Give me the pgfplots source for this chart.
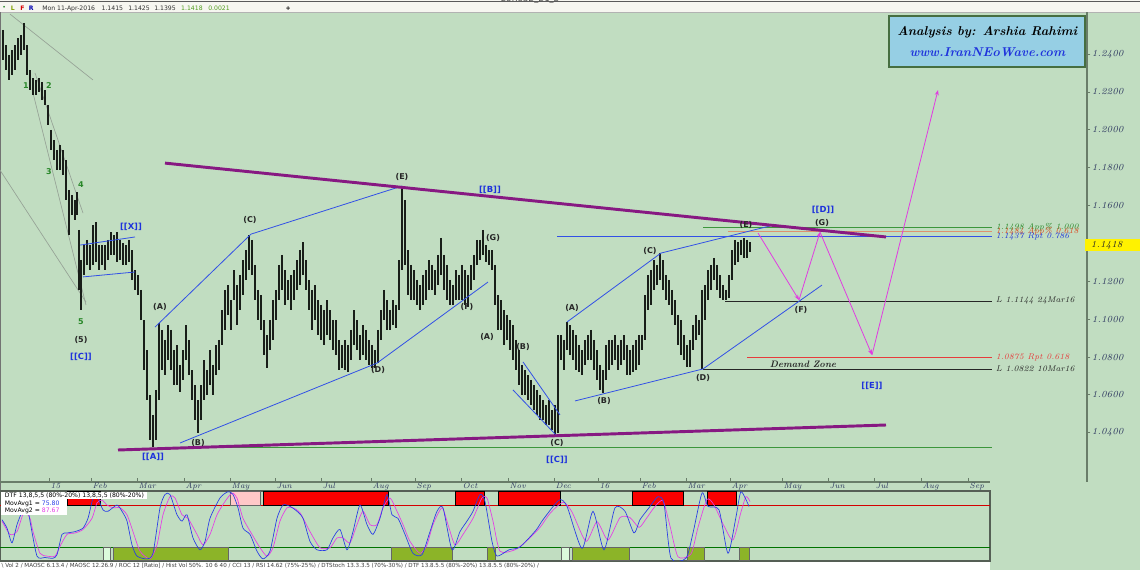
\documentclass[border=0pt]{standalone}
\usepackage{fontspec}
\usepackage{pgfplots}
\pgfplotsset{compat=1.18}
\usepackage{pgfplotstable}
\usetikzlibrary{arrows.meta}
\newfontfamily\dvs{DejaVu Sans}
\definecolor{bggreen}{RGB}{193,221,193}
\definecolor{topbg}{RGB}{246,246,240}
\definecolor{barcol}{RGB}{25,30,25}
\definecolor{purp}{RGB}{135,25,130}
\definecolor{wblue}{RGB}{50,80,230}
\definecolor{lgray}{RGB}{150,162,150}
\definecolor{magarrow}{RGB}{225,60,225}
\definecolor{lblblue}{RGB}{30,50,220}
\definecolor{lblgreen}{RGB}{40,135,40}
\definecolor{lvlgreen}{RGB}{60,150,60}
\definecolor{lvlsalmon}{RGB}{222,145,110}
\definecolor{lvlred}{RGB}{230,60,60}
\definecolor{orangetext}{RGB}{220,70,30}
\definecolor{tickcol}{RGB}{45,55,95}
\definecolor{axisgray}{RGB}{105,125,105}
\definecolor{panelborder}{RGB}{85,95,85}
\definecolor{oscred}{RGB}{250,0,0}
\definecolor{oscpink}{RGB}{255,200,200}
\definecolor{oscgreen}{RGB}{140,180,40}
\definecolor{osclight}{RGB}{220,250,220}
\definecolor{oscblue}{RGB}{40,60,230}
\definecolor{oscmag}{RGB}{230,60,230}
\definecolor{boxblue}{RGB}{150,207,228}
\definecolor{boxgreen}{RGB}{70,110,65}
\tikzset{
  wl/.style={font=\dvs\bfseries\fontsize{6}{7}\selectfont, text=black!85, inner sep=0.5pt},
  bl/.style={font=\dvs\bfseries\fontsize{6.3}{7}\selectfont, text=lblblue, inner sep=0.5pt},
  gl/.style={font=\dvs\bfseries\fontsize{6}{7}\selectfont, text=lblgreen, inner sep=0.5pt},
  lvl/.style={font=\fontsize{6.2}{7}\selectfont\itshape, anchor=west, inner sep=0.5pt},
}

\pgfplotstableread{
x lo hi
3 1.2368 1.2527
6 1.2315 1.2447
9 1.2263 1.2395
12 1.2289 1.2421
15 1.2315 1.2447
18 1.2368 1.2484
21 1.2395 1.2500
24 1.2421 1.2564
27 1.2289 1.2447
30 1.2210 1.2315
33 1.2183 1.2273
36 1.2183 1.2263
39 1.2199 1.2273
42 1.2157 1.2252
45 1.2131 1.2210
48 1.2025 1.2131
51 1.1893 1.1999
54 1.1840 1.1946
57 1.1787 1.1893
60 1.1787 1.1919
63 1.1761 1.1893
66 1.1629 1.1840
69 1.1444 1.1682
72 1.1550 1.1655
75 1.1523 1.1629
77 1.1550 1.1671
79 1.1154 1.1471
81 1.1048 1.1312
84 1.1233 1.1391
87 1.1286 1.1418
90 1.1259 1.1391
93 1.1286 1.1497
96 1.1302 1.1513
99 1.1259 1.1391
102 1.1286 1.1391
105 1.1259 1.1391
108 1.1312 1.1418
111 1.1339 1.1460
114 1.1339 1.1444
117 1.1302 1.1460
120 1.1312 1.1418
123 1.1286 1.1402
126 1.1286 1.1391
129 1.1302 1.1418
132 1.1207 1.1365
135 1.1154 1.1259
138 1.1127 1.1233
141 1.0995 1.1154
144 1.0731 1.0995
147 1.0573 1.0837
150 1.0362 1.0599
153 1.0325 1.0494
156 1.0362 1.0626
159 1.0573 1.0980
162 1.0731 1.0943
165 1.0705 1.0890
168 1.0784 1.0969
171 1.0731 1.0943
174 1.0652 1.0837
177 1.0652 1.0863
180 1.0615 1.0758
183 1.0679 1.0837
186 1.0784 1.0969
189 1.0705 1.0890
192 1.0573 1.0731
195 1.0467 1.0652
198 1.0399 1.0573
201 1.0467 1.0652
204 1.0573 1.0784
207 1.0599 1.0731
210 1.0652 1.0837
213 1.0599 1.0758
216 1.0705 1.0863
219 1.0731 1.0890
222 1.0863 1.1048
225 1.0943 1.1154
228 1.1022 1.1180
231 1.0943 1.1101
234 1.1101 1.1259
237 1.0969 1.1180
240 1.1048 1.1233
243 1.1127 1.1312
246 1.1207 1.1365
249 1.1259 1.1444
252 1.1233 1.1418
255 1.1101 1.1286
258 1.0995 1.1154
261 1.0943 1.1127
264 1.0811 1.0995
267 1.0742 1.0916
270 1.0837 1.0995
273 1.0890 1.1101
276 1.0995 1.1154
279 1.1101 1.1286
282 1.1154 1.1339
285 1.1075 1.1259
288 1.1101 1.1207
291 1.1048 1.1233
294 1.1101 1.1259
297 1.1154 1.1312
300 1.1180 1.1365
303 1.1233 1.1407
306 1.1154 1.1312
309 1.1048 1.1207
312 1.0943 1.1154
315 1.0995 1.1180
318 1.0916 1.1101
321 1.0890 1.1075
324 1.0863 1.1048
327 1.0916 1.1101
330 1.0890 1.1048
333 1.0837 1.0995
336 1.0811 1.0995
339 1.0731 1.0890
342 1.0742 1.0863
345 1.0731 1.0890
348 1.0721 1.0863
351 1.0784 1.0943
354 1.0863 1.1048
357 1.0837 1.0995
360 1.0784 1.0916
363 1.0811 1.0969
366 1.0784 1.0943
369 1.0758 1.0890
372 1.0742 1.0863
375 1.0742 1.0837
378 1.0768 1.0943
381 1.0890 1.1048
384 1.0995 1.1154
387 1.0943 1.1101
390 1.0943 1.1048
393 1.0969 1.1101
396 1.0953 1.1075
399 1.1048 1.1312
402 1.1259 1.1703
405 1.1286 1.1629
408 1.1127 1.1365
411 1.1101 1.1286
414 1.1101 1.1259
417 1.1075 1.1207
420 1.1048 1.1180
423 1.1075 1.1233
426 1.1101 1.1259
429 1.1154 1.1312
432 1.1154 1.1286
435 1.1127 1.1259
438 1.1180 1.1339
441 1.1233 1.1429
444 1.1154 1.1339
447 1.1101 1.1286
450 1.1075 1.1207
453 1.1075 1.1180
456 1.1101 1.1259
459 1.1101 1.1233
462 1.1101 1.1286
465 1.1075 1.1259
468 1.1064 1.1233
471 1.1154 1.1286
474 1.1207 1.1339
477 1.1286 1.1418
480 1.1312 1.1418
483 1.1339 1.1471
486 1.1302 1.1391
489 1.1286 1.1365
492 1.1259 1.1365
495 1.1075 1.1286
498 1.0943 1.1127
501 1.0943 1.1101
504 1.0863 1.1048
507 1.0890 1.1022
510 1.0837 1.0995
513 1.0784 1.0969
516 1.0731 1.0890
519 1.0652 1.0837
522 1.0599 1.0758
525 1.0599 1.0731
528 1.0573 1.0705
531 1.0547 1.0679
534 1.0520 1.0652
537 1.0494 1.0626
540 1.0467 1.0599
543 1.0467 1.0573
546 1.0441 1.0547
549 1.0441 1.0573
552 1.0415 1.0520
555 1.0388 1.0547
558 1.0399 1.0916
561 1.0784 1.0916
564 1.0731 1.0890
567 1.0837 1.0985
570 1.0811 1.0969
573 1.0784 1.0943
576 1.0731 1.0916
579 1.0721 1.0863
582 1.0705 1.0837
585 1.0758 1.0890
588 1.0784 1.0916
591 1.0784 1.0943
594 1.0731 1.0890
597 1.0679 1.0837
600 1.0626 1.0758
603 1.0610 1.0731
606 1.0679 1.0863
609 1.0731 1.0890
612 1.0758 1.0890
615 1.0784 1.0916
618 1.0731 1.0863
621 1.0758 1.0890
624 1.0784 1.0916
627 1.0705 1.0863
630 1.0705 1.0837
633 1.0721 1.0863
636 1.0731 1.0890
639 1.0758 1.0916
642 1.0837 1.0916
645 1.0890 1.1127
648 1.1048 1.1233
651 1.1075 1.1259
654 1.1154 1.1312
657 1.1180 1.1286
660 1.1207 1.1349
663 1.1154 1.1312
666 1.1101 1.1233
669 1.1075 1.1207
672 1.1022 1.1154
675 1.0969 1.1101
678 1.0863 1.1022
681 1.0811 1.0995
684 1.0784 1.0916
687 1.0747 1.0863
690 1.0747 1.0890
693 1.0837 1.0969
696 1.0890 1.1022
699 1.0916 1.0995
702 1.0737 1.1154
705 1.0995 1.1180
708 1.1101 1.1259
711 1.1154 1.1286
714 1.1207 1.1323
717 1.1154 1.1286
720 1.1112 1.1233
723 1.1101 1.1180
726 1.1101 1.1154
729 1.1112 1.1233
732 1.1207 1.1365
735 1.1286 1.1418
738 1.1302 1.1407
741 1.1339 1.1418
744 1.1323 1.1429
747 1.1323 1.1418
750 1.1354 1.1407
}\bars

\begin{document}
\begin{tikzpicture}
\useasboundingbox (0,0) rectangle (855pt,-427.5pt);
\fill[bggreen] (0,0) rectangle (855pt,-427.5pt);
\fill[topbg] (0,0) rectangle (855pt,-9.3pt);
\draw[black!65, line width=0.8pt] (0,-1.2pt) -- (855pt,-1.2pt);
\draw[black!30, line width=0.4pt] (0,-9.3pt) -- (855pt,-9.3pt);
\node[font=\dvs\fontsize{6}{7}\selectfont, text=black!70, anchor=center] at (397.5pt,0.6pt) {EURUSD\_D1\_B};
\draw[black!55, line width=0.5pt] (0.3pt,-9.3pt) -- (0.3pt,-427.5pt);

% info line
\begin{scope}[every node/.style={font=\dvs\fontsize{4.6}{5.5}\selectfont, anchor=west, inner sep=0pt}]
\node[text=lblgreen] at (1.5pt,-6.3pt) {\textbullet};
\node[text={rgb,255:red,130;green,160;blue,0}] at (8pt,-6.3pt) {\bfseries L};
\node[text=red!85!black] at (15pt,-6.3pt) {\bfseries F};
\node[text=blue!70!black] at (21.5pt,-6.3pt) {\bfseries R};
\node[text=black!80] at (31.5pt,-6.3pt) {Mon 11-Apr-2016};
\node[text=black!80] at (76pt,-6.3pt) {1.1415};
\node[text=black!80] at (96pt,-6.3pt) {1.1425};
\node[text=black!80] at (115.5pt,-6.3pt) {1.1395};
\node[text=lblgreen!80!yellow] at (135.7pt,-6.3pt) {1.1418};
\node[text=lblgreen!80!yellow] at (156pt,-6.3pt) {0.0021};
\node[text=black] at (214pt,-6.3pt) {\bfseries +};
\end{scope}

% ---------------- price panel ----------------
\begin{axis}[
  at={(0pt,-361.5pt)}, anchor=south west, scale only axis,
  width=815.25pt, height=352.5pt,
  xmin=0, xmax=1087, ymin=1.0140, ymax=1.2622,
  axis x line=none, axis y line*=right,
  y axis line style={draw=axisgray, line width=1.1pt},
  ytick={1.04,1.06,1.08,1.10,1.12,1.16,1.18,1.20,1.22,1.24},
  scaled y ticks=false,
  tick align=outside, major tick length=2.5pt,
  ytick style={draw=axisgray, line width=0.6pt},
  yticklabel style={font=\fontsize{7}{8}\selectfont\itshape, text=tickcol, inner sep=1pt,
    /pgf/number format/fixed, /pgf/number format/fixed zerofill,
    /pgf/number format/precision=4, /pgf/number format/assume math mode=true},
  clip=true,
]
% gray helper lines
\addplot[lgray, line width=0.5pt] coordinates {(10,1.2611) (93,1.2263)};
\addplot[lgray, line width=0.5pt] coordinates {(0,1.1787) (86,1.1090)};
\addplot[lgray, line width=0.5pt] coordinates {(35,1.2300) (83,1.1560)};
\addplot[lgray, line width=0.5pt] coordinates {(33,1.2194) (86,1.1075)};

% level lines
\addplot[lvlgreen, line width=0.6pt] coordinates {(703,1.1483) (992,1.1483)};
\addplot[lvlsalmon, line width=1pt] coordinates {(728,1.1462) (992,1.1462)};
\addplot[wblue, line width=0.8pt] coordinates {(557,1.1437) (992,1.1437)};
\addplot[black!85, line width=0.6pt] coordinates {(725,1.1096) (992,1.1096)};
\addplot[lvlred, line width=0.8pt] coordinates {(747,1.0795) (992,1.0795)};
\addplot[black!85, line width=0.6pt] coordinates {(703,1.0737) (992,1.0737)};
\addplot[lvlgreen, line width=0.6pt] coordinates {(180,1.0325) (992,1.0325)};

% price bars (high-low ranges)
\addplot[draw=none, no markers,
  error bars/.cd, y dir=minus, y explicit, error mark=none,
  error bar style={draw=barcol, line width=0.95pt, solid}]
  table[x=x, y=hi, y error expr=\thisrow{hi}-\thisrow{lo}] {\bars};

% blue wave lines
\addplot[wblue, line width=0.6pt] coordinates {(80,1.1391) (135,1.1434)};
\addplot[wblue, line width=0.6pt] coordinates {(83,1.1223) (135,1.1249)};
\addplot[wblue, line width=0.6pt] coordinates {(155,1.0958) (251,1.1449) (402,1.1703)};
\addplot[wblue, line width=0.6pt] coordinates {(180,1.0346) (377,1.0768) (488,1.1196)};
\addplot[wblue, line width=0.6pt] coordinates {(523,1.0774) (560,1.0494)};
\addplot[wblue, line width=0.6pt] coordinates {(513,1.0626) (556,1.0388)};
\addplot[wblue, line width=0.6pt] coordinates {(567,1.0985) (661,1.1349) (770,1.1492)};
\addplot[wblue, line width=0.6pt] coordinates {(575,1.0568) (703,1.0737) (822,1.1180)};

% purple triangle
\addplot[purp, line width=2.2pt] coordinates {(165,1.1824) (886,1.1434)};
\addplot[purp, line width=2.2pt] coordinates {(118,1.0309) (886,1.0441)};

% magenta forecast arrows
\addplot[magarrow, line width=0.6pt, -{Stealth[length=4pt,width=3pt]}] coordinates {(758,1.1455) (799,1.1101)};
\addplot[magarrow, line width=0.6pt, -{Stealth[length=4pt,width=3pt]}] coordinates {(799,1.1101) (820,1.1460)};
\addplot[magarrow, line width=0.6pt, -{Stealth[length=4pt,width=3pt]}] coordinates {(820,1.1460) (872,1.0811)};
\addplot[magarrow, line width=0.6pt, -{Stealth[length=4pt,width=3pt]}] coordinates {(872,1.0811) (938,1.2210)};

% wave labels
\node[gl] at (axis cs:26,1.2236) {1};
\node[gl] at (axis cs:49,1.2236) {2};
\node[gl] at (axis cs:49,1.1777) {3};
\node[gl] at (axis cs:81,1.1708) {4};
\node[gl] at (axis cs:81,1.0985) {5};
\node[wl] at (axis cs:81,1.0890) {(5)};
\node[bl] at (axis cs:81,1.0800) {[[C]]};
\node[bl] at (axis cs:131,1.1486) {[[X]]};
\node[wl] at (axis cs:160,1.1064) {(A)};
\node[wl] at (axis cs:198,1.0346) {(B)};
\node[wl] at (axis cs:250,1.1523) {(C)};
\node[wl] at (axis cs:378,1.0731) {(D)};
\node[wl] at (axis cs:402,1.1750) {(E)};
\node[bl] at (axis cs:153,1.0272) {[[A]]};
\node[bl] at (axis cs:490,1.1682) {[[B]]};
\node[wl] at (axis cs:493,1.1428) {(G)};
\node[wl] at (axis cs:467,1.1064) {(F)};
\node[wl] at (axis cs:487,1.0906) {(A)};
\node[wl] at (axis cs:523,1.0853) {(B)};
\node[wl] at (axis cs:557,1.0346) {(C)};
\node[bl] at (axis cs:557,1.0256) {[[C]]};
\node[wl] at (axis cs:572,1.1059) {(A)};
\node[wl] at (axis cs:604,1.0568) {(B)};
\node[wl] at (axis cs:650,1.1360) {(C)};
\node[wl] at (axis cs:703,1.0689) {(D)};
\node[wl] at (axis cs:746,1.1497) {(E)};
\node[wl] at (axis cs:801,1.1048) {(F)};
\node[wl] at (axis cs:822,1.1508) {(G)};
\node[bl] at (axis cs:823,1.1576) {[[D]]};
\node[bl] at (axis cs:872,1.0647) {[[E]]};
\node[font=\fontsize{7}{8}\selectfont\bfseries\itshape, text=black!85] at (axis cs:803,1.0763) {Demand Zone};

% level labels
\node[lvl, text=lblgreen] at (axis cs:995,1.1483) {1.1498 App\% 1.000};
\node[lvl, text=orangetext] at (axis cs:995,1.1462) {1.1484 App\% 0.618};
\node[lvl, text=lblblue] at (axis cs:995,1.1437) {1.1437 Rpt 0.786};
\node[lvl, text=black!85] at (axis cs:995,1.1096) {L 1.1144 24Mar16};
\node[lvl, text=lvlred] at (axis cs:995,1.0795) {1.0875 Rpt 0.618};
\node[lvl, text=black!85] at (axis cs:995,1.0737) {L 1.0822 10Mar16};
\end{axis}

% analysis box
\node[fill=boxblue, draw=boxgreen, line width=1.6pt, minimum width=147pt, minimum height=38pt,
  align=center, inner sep=1pt, font=\fontsize{9.6}{15.5}\selectfont\bfseries\itshape]
  at (740.5pt,-31.1pt) {Analysis by: Arshia Rahimi\\\textcolor{lblblue}{www.IranNEoWave.com}};

% current price tag
\fill[yellow] (814pt,-179.5pt) rectangle (855pt,-188.5pt);
\node[anchor=west, inner sep=0pt, font=\fontsize{7}{8}\selectfont\itshape, text=black!85] at (818pt,-184pt) {1.1418};

% ---------------- month axis ----------------
\begin{axis}[
  at={(0pt,-361.5pt)}, anchor=south west, scale only axis,
  width=742.5pt, height=2pt,
  xmin=0, xmax=990, ymin=0, ymax=1,
  axis x line*=bottom, axis y line=none,
  x axis line style={draw=axisgray, line width=0.8pt},
  xtick={49,91,137,184,230,275,321,371,415,461,508,554,598,640,686,730,782,828,874,921,968},
  xticklabels={15,Feb,Mar,Apr,May,Jun,Jul,Aug,Sep,Oct,Nov,Dec,16,Feb,Mar,Apr,May,Jun,Jul,Aug,Sep},
  tick align=inside, major tick length=3pt,
  xtick style={draw=axisgray, line width=0.6pt},
  xticklabel style={font=\fontsize{6}{7}\selectfont\itshape, text=tickcol, anchor=north west, inner sep=0.6pt, xshift=0.5pt},
]
\addplot[draw=none] coordinates {(0,0)};
\end{axis}

% ---------------- oscillator panel ----------------
\begin{axis}[
  at={(0pt,-420.75pt)}, anchor=south west, scale only axis,
  width=742.5pt, height=52.5pt,
  xmin=0, xmax=990, ymin=0, ymax=100,
  ticks=none, axis line style={draw=panelborder, line width=1.2pt},
  clip=true,
]
\addplot[oscred!85!black, line width=0.5pt] coordinates {(0,80) (990,80)};
\addplot[green!45!black, line width=0.5pt] coordinates {(0,20) (990,20)};
% signal blocks
\addplot[fill=oscred, draw=black, line width=0.4pt] coordinates {(67,80) (67,100) (100,100) (100,80)} --cycle;
\addplot[fill=oscpink, draw=black!60, line width=0.4pt] coordinates {(230,80) (230,100) (260,100) (260,80)} --cycle;
\addplot[fill=oscred, draw=black, line width=0.4pt] coordinates {(263,80) (263,100) (388,100) (388,80)} --cycle;
\addplot[fill=oscred, draw=black, line width=0.4pt] coordinates {(455,80) (455,100) (484,100) (484,80)} --cycle;
\addplot[fill=oscred, draw=black, line width=0.4pt] coordinates {(498,80) (498,100) (560,100) (560,80)} --cycle;
\addplot[fill=oscred, draw=black, line width=0.4pt] coordinates {(632,80) (632,100) (683,100) (683,80)} --cycle;
\addplot[fill=oscred, draw=black, line width=0.4pt] coordinates {(707,80) (707,100) (736,100) (736,80)} --cycle;
\addplot[fill=osclight, draw=black!60, line width=0.4pt] coordinates {(103,1) (103,20) (110,20) (110,1)} --cycle;
\addplot[fill=oscgreen, draw=black!60, line width=0.4pt] coordinates {(113,1) (113,20) (228,20) (228,1)} --cycle;
\addplot[fill=oscgreen, draw=black!60, line width=0.4pt] coordinates {(391,1) (391,20) (452,20) (452,1)} --cycle;
\addplot[fill=oscgreen, draw=black!60, line width=0.4pt] coordinates {(487,1) (487,20) (495,20) (495,1)} --cycle;
\addplot[fill=osclight, draw=black!60, line width=0.4pt] coordinates {(561,1) (561,20) (569,20) (569,1)} --cycle;
\addplot[fill=oscgreen, draw=black!60, line width=0.4pt] coordinates {(572,1) (572,20) (629,20) (629,1)} --cycle;
\addplot[fill=oscgreen, draw=black!60, line width=0.4pt] coordinates {(687,1) (687,20) (704,20) (704,1)} --cycle;
\addplot[fill=oscgreen, draw=black!60, line width=0.4pt] coordinates {(739,1) (739,20) (749,20) (749,1)} --cycle;
% MovAvg2 (magenta)
\addplot[oscmag, line width=0.5pt, smooth, tension=0.4] coordinates {
(2,57) (10,38) (17,42) (24,70) (30,61) (33,42) (40,11) (47,7) (55,7) (60,21) (67,38) (75,40) (83,45) (92,61) (97,83) (102,87) (107,80) (113,76) (120,76) (127,66) (133,42) (140,14) (150,3) (157,23) (163,66) (170,92) (175,90) (182,66) (188,61) (197,38) (203,23) (210,38) (217,66) (225,85) (232,97) (237,90) (243,61) (252,38) (260,19) (267,7) (273,19) (280,57) (287,76) (293,76) (300,69) (310,42) (320,19) (330,19) (337,33) (343,33) (350,26) (357,52) (363,71) (370,52) (377,52) (383,76) (390,90) (397,71) (403,52) (410,28) (420,11) (427,23) (433,52) (442,76) (448,52) (455,23) (463,38) (473,61) (482,90) (487,90) (493,57) (500,14) (515,16) (526,28) (540,48) (550,68) (563,84) (572,70) (586,28) (597,56) (608,30) (620,62) (630,62) (639,48) (646,60) (655,78) (663,86) (670,50) (678,6) (691,10) (698,48) (707,88) (714,80) (724,50) (733,30) (741,70) (746,92) (750,85)};
% MovAvg1 (blue)
\addplot[oscblue, line width=0.5pt, smooth, tension=0.4] coordinates {
(2,59) (7,47) (12,26) (17,52) (22,70) (27,80) (30,57) (37,7) (45,5) (53,4) (57,9) (62,38) (67,40) (75,42) (83,47) (88,61) (92,85) (95,97) (98,90) (103,73) (108,71) (117,80) (122,71) (127,57) (132,23) (137,7) (147,3) (153,11) (160,76) (165,95) (170,95) (177,66) (182,57) (187,66) (193,33) (200,16) (205,28) (210,61) (220,90) (228,99) (233,95) (238,76) (243,47) (250,38) (257,14) (263,3) (270,14) (277,61) (283,80) (290,78) (297,71) (303,61) (310,28) (317,16) (327,16) (333,33) (340,45) (347,16) (353,42) (360,80) (367,52) (373,38) (380,61) (387,95) (392,66) (398,61) (405,38) (413,11) (422,9) (430,42) (437,71) (443,76) (452,16) (460,42) (467,57) (473,71) (480,95) (485,85) (492,28) (497,7) (509,16) (520,20) (536,44) (543,59) (559,87) (567,78) (582,18) (593,71) (604,16) (615,76) (625,71) (634,40) (640,59) (649,76) (658,92) (664,82) (671,4) (686,4) (693,40) (702,97) (708,78) (719,73) (728,11) (736,63) (741,99) (749,78)};
\end{axis}

% oscillator legend
\fill[white] (0.8pt,-368.9pt) rectangle (110.25pt,-374.4pt);
\fill[white] (0.8pt,-374.4pt) rectangle (50.25pt,-386pt);
\begin{scope}[every node/.style={font=\dvs\fontsize{4.6}{5}\selectfont, anchor=west, inner sep=0pt, text=black}]
\node at (3.5pt,-371.6pt) {DTF 13,8,5,5 (80\%-20\%) 13,8,5,5 (80\%-20\%)};
\node at (3.5pt,-377.8pt) {MovAvg1 = \textcolor{oscblue}{75.80}};
\node at (3.5pt,-383pt) {MovAvg2 = \textcolor{oscmag}{87.67}};
\end{scope}

% bottom tabs strip
\fill[white] (0,-421.6pt) rectangle (742.5pt,-427.5pt);
\node[anchor=west, inner sep=0pt, font=\dvs\fontsize{4.2}{5}\selectfont, text=black!75] at (1pt,-424.6pt)
 {\textbackslash\ Vol 2 / MAOSC 6.13.4 / MAOSC 12.26.9 / ROC 12 [Ratio] / Hist Vol 50\%. 10 6 40 / CCI 13 / RSI 14.62 (75\%-25\%) / DTStoch 13.3.3.5 (70\%-30\%) / DTF 13.8.5.5 (80\%-20\%) 13.8.5.5 (80\%-20\%) /};
\end{tikzpicture}
\end{document}
